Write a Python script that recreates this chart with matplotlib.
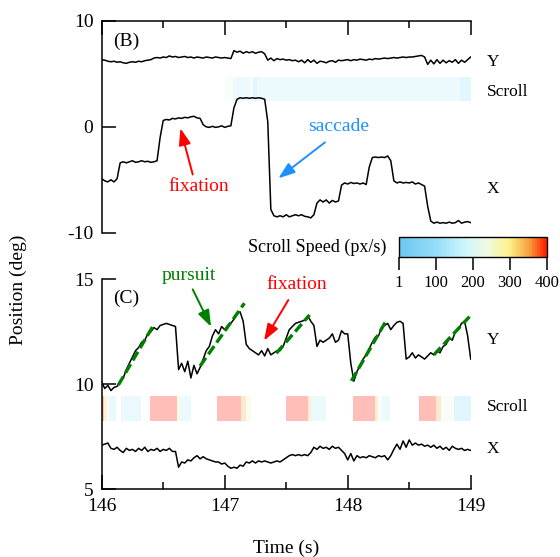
import numpy as np
import matplotlib
matplotlib.use('Agg')
import matplotlib.pyplot as plt
from matplotlib.colors import LinearSegmentedColormap, Normalize
from matplotlib.cm import ScalarMappable
from matplotlib.ticker import MultipleLocator

plt.rcParams['font.family'] = 'Liberation Serif'
plt.rcParams['axes.unicode_minus'] = False

# time grid (s)
t = np.linspace(146.0, 149.0, 121)

# panel (B): gaze position (deg)
b_x = [-4.9, -5.1, -5.2, -5.0, -5.2, -4.9, -3.4, -3.3, -3.4, -3.3,
       -3.2, -3.35, -3.3, -3.2, -3.3, -3.25, -3.35, -3.3, -3.2, -1.0,
       0.6, 0.7, 0.65, 0.8, 0.75, 0.85, 0.8, 0.9, 0.85, 0.95,
       1.0, 0.85, 0.8, 0.2, 0.0, -0.05, 0.05, -0.05, 0.0, 0.1,
       -0.05, 0.05, 0.1, 1.8, 2.6, 2.75, 2.7, 2.75, 2.7, 2.75,
       2.7, 2.75, 2.7, 2.6, 0.5, -7.8, -8.4, -8.5, -8.4, -8.5,
       -8.3, -8.5, -8.4, -8.3, -8.4, -8.3, -8.45, -8.5, -8.6, -8.3,
       -7.2, -6.9, -7.1, -6.9, -7.2, -6.95, -7.1, -7.0, -5.5, -5.3,
       -5.4, -5.25, -5.35, -5.3, -5.4, -5.3, -5.45, -3.8, -2.9, -2.85,
       -2.9, -2.85, -2.9, -2.75, -3.2, -5.1, -5.3, -5.2, -5.3, -5.25,
       -5.3, -5.2, -5.4, -5.3, -5.45, -5.6, -7.5, -8.9, -9.1, -9.0,
       -9.1, -9.05, -9.1, -9.0, -9.1, -9.05, -8.85, -9.1, -9.0, -8.95,
       -9.05]
b_y = [6.35, 6.3, 6.2, 6.15, 6.2, 6.1, 6.15, 6.05, 6.0, 6.1,
       6.15, 6.1, 6.2, 6.15, 6.25, 6.3, 6.35, 6.5, 6.55, 6.5,
       6.6, 6.55, 6.7, 6.6, 6.65, 6.55, 6.6, 6.65, 6.55, 6.6,
       6.5, 6.6, 6.55, 6.5, 6.6, 6.55, 6.5, 6.6, 6.55, 6.5,
       6.55, 6.5, 6.45, 7.2, 7.05, 7.15, 6.95, 7.1, 7.0, 7.1,
       6.95, 7.05, 7.1, 6.9, 6.3, 6.5, 6.25, 6.45, 6.35, 6.4,
       6.3, 6.35, 6.25, 6.3, 6.15, 6.3, 6.05, 6.35, 6.1, 6.3,
       6.0, 6.2, 6.15, 6.05, 6.2, 6.25, 6.1, 6.3, 6.25, 6.3,
       6.35, 6.25, 6.35, 6.3, 6.4, 6.35, 6.3, 6.4, 6.35, 6.45,
       6.4, 6.45, 6.5, 6.45, 6.5, 6.55, 6.5, 6.55, 6.6, 6.55,
       6.6, 6.6, 6.65, 6.7, 6.75, 6.6, 5.9, 6.3, 5.95, 6.35,
       6.0, 6.3, 6.05, 6.25, 6.1, 6.35, 6.0, 6.3, 6.1, 6.35,
       6.6]

# panel (C): gaze position (deg)
c_y = [10.1, 9.8, 9.95, 9.7, 9.85, 9.9, 10.15, 10.3, 10.7, 11.0,
       11.3, 11.6, 11.75, 12.0, 12.1, 12.4, 12.5, 12.7, 12.6, 12.8,
       12.85, 12.9, 12.85, 12.8, 12.75, 10.7, 11.0, 10.6, 11.1, 10.3,
       10.9, 10.5, 10.8, 11.2, 11.6, 11.8, 12.3, 12.6, 12.4, 12.75,
       12.6, 12.8, 12.9, 13.1, 13.35, 13.45, 13.0, 11.9, 11.7, 11.6,
       11.5, 11.4, 11.6, 11.35, 11.7, 11.4, 11.5, 11.6, 11.6, 11.8,
       12.2, 12.6, 12.75, 12.9, 12.95, 13.0, 13.05, 13.25, 13.0, 12.8,
       11.8, 12.1, 12.0, 12.1, 12.2, 12.4, 12.0, 12.1, 12.55, 12.4,
       12.4, 11.0, 10.15, 10.6, 10.9, 11.2, 11.4, 11.7, 12.0, 12.25,
       12.3, 12.7, 12.8, 12.9, 12.6, 12.8, 12.95, 13.0, 12.9, 11.2,
       11.3, 11.5, 11.25, 11.4, 11.3, 11.2, 11.35, 11.5, 11.4, 11.6,
       11.5, 11.8, 11.9, 12.2, 12.1, 12.5, 12.6, 12.9, 13.0, 12.3,
       11.2]
c_x = [7.1, 7.15, 7.2, 6.95, 6.9, 7.0, 6.85, 6.75, 6.95, 6.85,
       6.9, 6.8, 6.95, 6.85, 7.0, 6.8, 6.9, 6.85, 6.95, 6.8,
       6.9, 6.85, 6.95, 6.8, 6.8, 6.05, 6.3, 6.25, 6.4, 6.35,
       6.5, 6.6, 6.45, 6.55, 6.45, 6.4, 6.35, 6.3, 6.3, 6.2,
       6.25, 6.1, 6.0, 6.05, 6.0, 6.15, 6.1, 6.3, 6.25, 6.35,
       6.25, 6.35, 6.3, 6.35, 6.3, 6.25, 6.3, 6.35, 6.3, 6.4,
       6.5, 6.6, 6.65, 6.6, 6.65, 6.6, 6.65, 6.6, 6.75, 7.0,
       6.9, 7.05, 6.95, 7.0, 6.9, 7.05, 6.95, 7.0, 6.85, 6.7,
       6.4, 6.7, 6.35, 6.6, 6.5, 6.55, 6.5, 6.6, 6.55, 6.5,
       6.6, 6.55, 6.6, 6.4, 6.6, 6.9, 7.15, 6.9, 7.3, 7.0,
       7.35, 7.1, 7.2, 7.1, 7.15, 7.05, 7.1, 7.0, 7.1, 6.95,
       7.05, 6.9, 7.0, 6.85, 7.05, 6.95, 6.9, 6.95, 6.85, 6.9,
       6.85]

# scroll speed segments (start s, end s, px/s)
b_scroll_start = [147.00, 147.07, 147.205, 147.23, 147.26, 148.91]
b_scroll_end = [147.07, 147.205, 147.23, 147.26, 148.91, 149.00]
b_scroll_speed = [230, 160, 200, 110, 160, 110]

c_scroll_start = [146.00, 146.02, 146.04, 146.06, 146.16, 146.39, 146.61, 146.63,
                  146.94, 147.13, 147.17, 147.50, 147.675, 147.70,
                  148.04, 148.22, 148.25, 148.28, 148.58, 148.72, 148.76, 148.86]
c_scroll_end = [146.02, 146.04, 146.06, 146.12, 146.32, 146.61, 146.63, 146.73,
                147.13, 147.17, 147.21, 147.675, 147.70, 147.82,
                148.22, 148.25, 148.28, 148.34, 148.72, 148.76, 148.86, 149.00]
c_scroll_speed = [400, 320, 230, 150, 150, 400, 300, 160,
                  400, 340, 260, 400, 330, 160,
                  400, 330, 220, 160, 400, 340, 230, 100]

# pursuit fits (panel C)
pursuit_t0 = [146.135, 146.80, 147.42, 148.03, 148.70]
pursuit_t1 = [146.42, 147.16, 147.69, 148.31, 148.99]
pursuit_v0 = [9.96, 10.87, 11.48, 10.16, 11.40]
pursuit_v1 = [12.80, 13.86, 13.30, 13.00, 13.22]

cmap = LinearSegmentedColormap.from_list(
    'scroll', [(0.0, '#6cc6f0'), (0.25, '#94def7'), (0.45, '#cdf6fc'),
               (0.6, '#f0fbe0'), (0.75, '#fdf08a'), (0.88, '#f7a240'),
               (1.0, '#ff1a00')])
norm = Normalize(1, 400)

fig = plt.figure(figsize=(5.6, 5.57), dpi=100)
axb = fig.add_axes([0.1816, 0.5822, 0.659, 0.3801])
axc = fig.add_axes([0.1816, 0.1216, 0.659, 0.377])


def style_axis(ax, top):
    for s in ax.spines.values():
        s.set_linewidth(1.1)
    ax.spines['right'].set_visible(False)
    if top:
        ax.spines['bottom'].set_visible(False)
        ax.xaxis.set_ticks_position('top')
        ax.tick_params(axis='x', labeltop=False, labelbottom=False)
    else:
        ax.spines['top'].set_visible(False)
        ax.xaxis.set_ticks_position('bottom')
    ax.yaxis.set_ticks_position('left')
    ax.xaxis.set_major_locator(MultipleLocator(1))
    ax.xaxis.set_minor_locator(MultipleLocator(0.5))
    ax.tick_params(which='major', direction='in', length=10, width=1.1,
                   labelsize=14, pad=6)
    ax.tick_params(which='minor', direction='in', length=5, width=1.1)
    ax.set_xlim(146, 149)


# ---- panel B ----
style_axis(axb, True)
axb.set_ylim(-10, 10)
axb.set_yticks([-10, 0, 10])
axb.broken_barh([(s, e - s) for s, e in zip(b_scroll_start, b_scroll_end)],
                (2.4, 2.3),
                facecolors=[cmap(norm(v), alpha=0.28) for v in b_scroll_speed])
axb.plot(t, b_y, color='black', lw=1.1)
axb.plot(t, b_x, color='black', lw=1.1)
axb.text(0.031, 0.902, '(B)', transform=axb.transAxes, fontsize=14,
         ha='left', va='center')

arrow = dict(arrowstyle='-|>,head_length=0.5,head_width=0.18', lw=1.4,
             mutation_scale=20, shrinkA=0, shrinkB=0)
axb.annotate('', xy=(146.64, -0.14), xytext=(146.74, -4.5),
             arrowprops=dict(arrow, color='red'))
axb.text(146.79, -5.59, 'fixation', color='red', fontsize=14,
         ha='center', va='center')
axb.annotate('', xy=(147.436, -4.86), xytext=(147.815, -1.46),
             arrowprops=dict(arrow, color='#1e90ff'))
axb.text(147.927, 0.0, 'saccade', color='#1e90ff', fontsize=14,
         ha='center', va='center')

for lab, v in [('Y', 6.15), ('Scroll', 3.32), ('X', -5.87)]:
    axb.text(149.13, v, lab, fontsize=12.5, ha='left', va='center',
             clip_on=False)

# ---- panel C ----
style_axis(axc, False)
axc.set_ylim(5, 15)
axc.set_yticks([5, 10, 15])
axc.broken_barh([(s, e - s) for s, e in zip(c_scroll_start, c_scroll_end)],
                (8.27, 1.19),
                facecolors=[cmap(norm(v), alpha=0.28) for v in c_scroll_speed])
axc.plot(t, c_y, color='black', lw=1.1)
axc.plot(t, c_x, color='black', lw=1.1)
for t0, t1, v0, v1 in zip(pursuit_t0, pursuit_t1, pursuit_v0, pursuit_v1):
    axc.plot([t0, t1], [v0, v1], color='green', lw=2.4,
             linestyle=(0, (3, 1.3)))
axc.text(0.031, 0.911, '(C)', transform=axc.transAxes, fontsize=14,
         ha='left', va='center')

axc.annotate('', xy=(146.889, 12.74), xytext=(146.74, 14.52),
             arrowprops=dict(arrow, color='green'))
axc.text(146.711, 15.18, 'pursuit', color='green', fontsize=14,
         ha='center', va='center', clip_on=False)
axc.annotate('', xy=(147.32, 12.08), xytext=(147.517, 14.01),
             arrowprops=dict(arrow, color='red'))
axc.text(147.589, 14.73, 'fixation', color='red', fontsize=14,
         ha='center', va='center')

for lab, v in [('Y', 12.11), ('Scroll', 8.93), ('X', 6.92)]:
    axc.text(149.13, v, lab, fontsize=12.5, ha='left', va='center',
             clip_on=False)

# ---- colorbar ----
cax = fig.add_axes([0.7125, 0.538, 0.2637, 0.037])
cb = fig.colorbar(ScalarMappable(norm=norm, cmap=cmap), cax=cax,
                  orientation='horizontal', ticks=[1, 100, 200, 300, 400])
cb.outline.set_linewidth(1.0)
cax.tick_params(direction='out', length=9, width=1.1, labelsize=12, pad=4)
fig.text(386 / 560, 1 - 247 / 557, 'Scroll Speed (px/s)', fontsize=13,
         ha='right', va='center')

fig.text(0.032, 1 - 290 / 557, 'Position (deg)', fontsize=14,
         rotation=90, ha='center', va='center')
fig.text(286 / 560, 1 - 548 / 557, 'Time (s)', fontsize=14,
         ha='center', va='center')

fig.savefig('out.png', dpi=100, facecolor='white')
